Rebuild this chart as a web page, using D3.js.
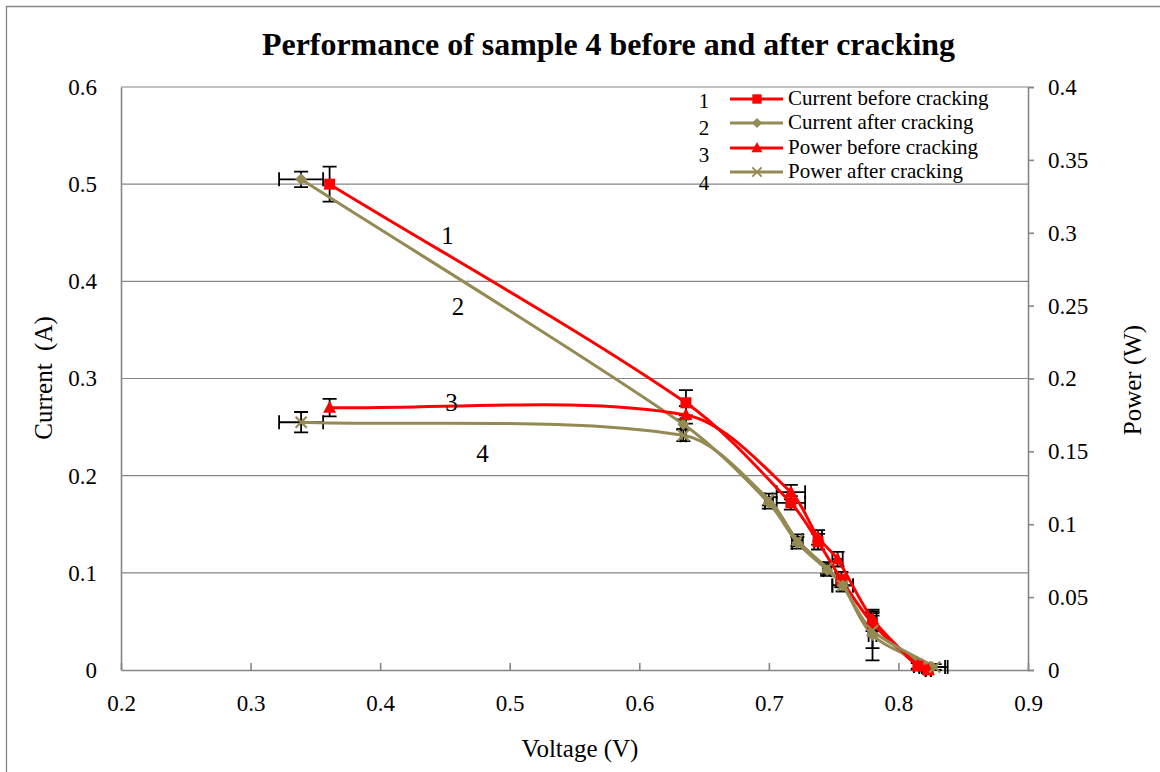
<!DOCTYPE html>
<html>
<head>
<meta charset="utf-8">
<script src="https://cdn.jsdelivr.net/npm/d3@7/dist/d3.min.js"></script>
<style>
  html, body { margin: 0; padding: 0; background: #fff; }
  svg { display: block; }
  text { font-family: "Liberation Serif", "Times New Roman", serif; fill: #000; }
</style>
</head>
<body>
<svg id="chart" width="1160" height="772"></svg>
<script>
// Voltage (V) readings for each series
const voltCurBefore = [0.361, 0.636, 0.717, 0.738, 0.756, 0.780, 0.815, 0.823];
const voltCurAfter  = [0.339, 0.634, 0.700, 0.722, 0.745, 0.757, 0.780, 0.826];
const voltPowBefore = [0.361, 0.636, 0.717, 0.738, 0.753, 0.780, 0.815, 0.823];
const voltPowAfter  = [0.339, 0.634, 0.700, 0.722, 0.745, 0.757, 0.780, 0.828];

// Current (A), left axis
const currentBefore = [0.500, 0.275, 0.172, 0.132, 0.093, 0.048, 0.004, 0.000];
const currentAfter  = [0.505, 0.253, 0.172, 0.131, 0.103, 0.087, 0.036, 0.003];
// Power (W), right axis
const powerBefore = [0.180, 0.175, 0.122, 0.091, 0.076, 0.035, 0.003, 0.000];
const powerAfter  = [0.170, 0.161, 0.117, 0.089, 0.070, 0.058, 0.027, 0.002];

// Error half-widths (x in V, y in series units)
const errXCurBefore = [0.000, 0.000, 0.011, 0.003, 0.004, 0.003, 0.003, 0.002];
const errYCurBefore = [0.018, 0.013, 0.007, 0.008, 0.008, 0.008, 0.003, 0.002];
const errXCurAfter  = [0.017, 0.002, 0.003, 0.004, 0.003, 0.008, 0.003, 0.010];
const errYCurAfter  = [0.008, 0.005, 0.006, 0.006, 0.006, 0.006, 0.026, 0.003];
const errXPowBefore = [0.000, 0.000, 0.011, 0.003, 0.004, 0.003, 0.003, 0.002];
const errYPowBefore = [0.006, 0.006, 0.005, 0.005, 0.005, 0.005, 0.002, 0.002];
const errXPowAfter  = [0.017, 0.002, 0.003, 0.004, 0.003, 0.008, 0.003, 0.010];
const errYPowAfter  = [0.007, 0.004, 0.004, 0.004, 0.004, 0.004, 0.012, 0.002];

const xTicks = [0.2, 0.3, 0.4, 0.5, 0.6, 0.7, 0.8, 0.9];
const currentTicks = [0, 0.1, 0.2, 0.3, 0.4, 0.5, 0.6];
const powerTicks = [0, 0.05, 0.1, 0.15, 0.2, 0.25, 0.3, 0.35, 0.4];

const legendLabels = ["Current before cracking", "Current after cracking", "Power before cracking", "Power after cracking"];
const legendNumbers = ["1", "2", "3", "4"];

const RED = "#ff0000", OLIVE = "#948a54", AXIS = "#868686";
const SERIF = "'Liberation Serif', 'Times New Roman', serif";

const svg = d3.select("#chart");
const m = { left: 121, right: 1028, top: 87, bottom: 670 };

const x = d3.scaleLinear().domain([0.2, 0.9]).range([m.left, m.right]);
const yCur = d3.scaleLinear().domain([0, 0.6]).range([m.bottom, m.top]);
const yPow = d3.scaleLinear().domain([0, 0.4]).range([m.bottom, m.top]);

// outer chart frame
svg.append("path")
  .attr("d", "M6.5,780 V6.5 H1170")
  .attr("fill", "none").attr("stroke", AXIS).attr("stroke-width", 1.3);

// title
svg.append("text")
  .attr("x", 262).attr("y", 55)
  .attr("font-size", 31).attr("font-weight", "bold")
  .attr("textLength", 693).attr("lengthAdjust", "spacingAndGlyphs")
  .text("Performance of sample 4 before and after cracking");

// horizontal gridlines
svg.append("g").selectAll("line")
  .data(currentTicks.filter(d => d > 0))
  .join("line")
  .attr("x1", m.left).attr("x2", m.right)
  .attr("y1", d => yCur(d)).attr("y2", d => yCur(d))
  .attr("stroke", AXIS).attr("stroke-width", 1.2);

// axes
const gLeft = svg.append("g").attr("transform", `translate(${m.left},0)`)
  .call(d3.axisLeft(yCur).tickValues(currentTicks).tickSize(0).tickPadding(24).tickFormat(d3.format("")));
const gRight = svg.append("g").attr("transform", `translate(${m.right},0)`)
  .call(d3.axisRight(yPow).tickValues(powerTicks).tickSize(6).tickPadding(14).tickFormat(d3.format("")));
const gBottom = svg.append("g").attr("transform", `translate(0,${m.bottom})`)
  .call(d3.axisBottom(x).tickValues(xTicks).tickSizeInner(-7).tickSizeOuter(0).tickPadding(20).tickFormat(d3.format("")));

[gLeft, gRight, gBottom].forEach(g => {
  g.attr("font-family", SERIF);
  g.select(".domain").attr("stroke", AXIS).attr("stroke-width", 1.6);
  g.selectAll(".tick line").attr("stroke", AXIS).attr("stroke-width", 1.6);
  g.selectAll(".tick text").attr("font-size", 23).attr("font-family", SERIF).attr("fill", "#000");
});
gBottom.selectAll(".tick text").attr("dy", "0.9em");

// axis titles
svg.append("text").attr("x", 580).attr("y", 757).attr("text-anchor", "middle")
  .attr("font-size", 25).text("Voltage (V)");
svg.append("text").attr("transform", "translate(52,378) rotate(-90)").attr("text-anchor", "middle")
  .attr("font-size", 25).attr("xml:space", "preserve").text("Current  (A)");
svg.append("text").attr("transform", "translate(1141,380) rotate(-90)").attr("text-anchor", "middle")
  .attr("font-size", 25).text("Power (W)");

function rows(vx, vy, ex, ey) {
  return vx.map((v, i) => ({ x: v, y: vy[i], ex: ex[i], ey: ey[i] }));
}

const series = [
  { data: rows(voltCurBefore, currentBefore, errXCurBefore, errYCurBefore), y: yCur, color: RED, marker: "square" },
  { data: rows(voltCurAfter, currentAfter, errXCurAfter, errYCurAfter), y: yCur, color: OLIVE, marker: "diamond" },
  { data: rows(voltPowBefore, powerBefore, errXPowBefore, errYPowBefore), y: yPow, color: RED, marker: "triangle" },
  { data: rows(voltPowAfter, powerAfter, errXPowAfter, errYPowAfter), y: yPow, color: OLIVE, marker: "cross" }
];

// Smoothed path: cubic Bezier segments whose tangents follow the neighbouring
// points, with handle lengths tied to each segment's own length (no overshoot loops).
function smoothPath(pts, k) {
  const p = d3.path();
  const n = pts.length;
  const unit = (a, b) => {
    const dx = b[0] - a[0], dy = b[1] - a[1], l = Math.hypot(dx, dy) || 1;
    return [dx / l, dy / l];
  };
  const tan = pts.map((pt, i) => unit(pts[Math.max(0, i - 1)], pts[Math.min(n - 1, i + 1)]));
  p.moveTo(pts[0][0], pts[0][1]);
  for (let i = 0; i < n - 1; i++) {
    const a = pts[i], b = pts[i + 1];
    const len = Math.hypot(b[0] - a[0], b[1] - a[1]) * k;
    p.bezierCurveTo(a[0] + tan[i][0] * len, a[1] + tan[i][1] * len,
                    b[0] - tan[i + 1][0] * len, b[1] - tan[i + 1][1] * len,
                    b[0], b[1]);
  }
  return p.toString();
}

const plot = svg.append("g");

function drawMarker(g, type, color) {
  if (type === "square") {
    g.append("rect").attr("x", -5.5).attr("y", -5.5).attr("width", 11).attr("height", 11).attr("fill", color);
  } else if (type === "diamond") {
    g.append("path").attr("d", "M0,-6 L6,0 L0,6 L-6,0Z").attr("fill", color);
  } else if (type === "triangle") {
    g.append("path").attr("d", "M0,-7 L6.5,5 L-6.5,5Z").attr("fill", color);
  } else {
    g.append("path").attr("d", "M-5.5,-5.5 L5.5,5.5 M-5.5,5.5 L5.5,-5.5")
      .attr("stroke", color).attr("stroke-width", 2.2).attr("fill", "none");
  }
}

// error bars
series.forEach(s => {
  const eg = plot.append("g").attr("stroke", "#000").attr("stroke-width", 1.8).attr("fill", "none");
  s.data.forEach(d => {
    const cx = x(d.x), cy = s.y(d.y);
    if (d.ey > 0) {
      const y1 = s.y(d.y + d.ey), y2 = s.y(Math.max(0, d.y - d.ey));
      eg.append("path").attr("d", `M${cx},${y1} V${y2} M${cx - 7},${y1} H${cx + 7} M${cx - 7},${y2} H${cx + 7}`);
    }
    if (d.ex > 0) {
      const x1 = x(d.x - d.ex), x2 = x(d.x + d.ex);
      eg.append("path").attr("d", `M${x1},${cy} H${x2} M${x1},${cy - 7} V${cy + 7} M${x2},${cy - 7} V${cy + 7}`);
    }
  });
});

// smoothed lines
series.forEach(s => {
  const pts = s.data.map(d => [x(d.x), s.y(d.y)]);
  plot.append("path").attr("d", smoothPath(pts, 0.3))
    .attr("fill", "none").attr("stroke", s.color).attr("stroke-width", 3);
});

// markers
series.forEach(s => {
  s.data.forEach(d => {
    const g = plot.append("g").attr("transform", `translate(${x(d.x)},${s.y(d.y)})`);
    drawMarker(g, s.marker, s.color);
  });
});

// curve number labels
const curveLabels = [
  { t: "1", v: 0.452, c: 0.438 },
  { t: "2", v: 0.460, c: 0.365 },
  { t: "3", v: 0.455, c: 0.267 },
  { t: "4", v: 0.479, c: 0.214 }
];
svg.append("g").selectAll("text").data(curveLabels).join("text")
  .attr("x", d => x(d.v)).attr("y", d => yCur(d.c)).attr("text-anchor", "middle")
  .attr("font-size", 25).text(d => d.t);

// legend
const legend = svg.append("g");
const legendMarkers = ["square", "diamond", "triangle", "cross"];
const legendColors = [RED, OLIVE, RED, OLIVE];
const rowY = [99, 123, 148, 172];
const numY = [108, 135, 162, 190];
legendLabels.forEach((lab, i) => {
  legend.append("line").attr("x1", 730).attr("x2", 783).attr("y1", rowY[i]).attr("y2", rowY[i])
    .attr("stroke", legendColors[i]).attr("stroke-width", 3);
  const mg = legend.append("g").attr("transform", `translate(757,${rowY[i]}) scale(0.85)`);
  drawMarker(mg, legendMarkers[i], legendColors[i]);
  legend.append("text").attr("x", 788).attr("y", rowY[i] + 6).attr("font-size", 21).text(lab);
  legend.append("text").attr("x", 704).attr("y", numY[i]).attr("text-anchor", "middle")
    .attr("font-size", 21).text(legendNumbers[i]);
});
</script>
</body>
</html>
